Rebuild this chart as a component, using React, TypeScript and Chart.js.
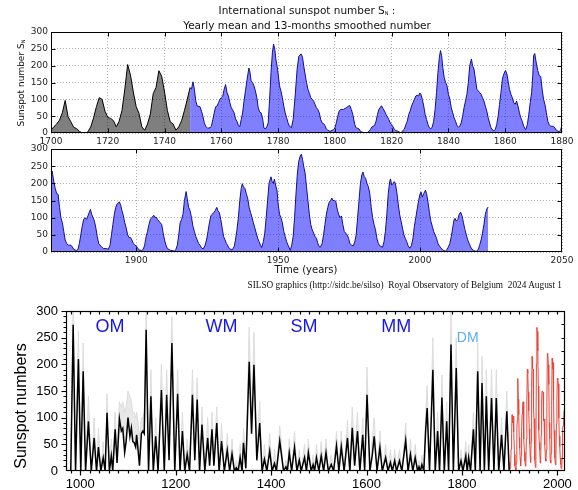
import React, { useEffect, useRef } from 'react';
import { Chart, registerables } from 'chart.js';
Chart.register(...registerables);

const W = 578;
const H = 490;

// ---------- DATA ----------
// Yearly mean sunspot number 1700-1749 (grey part of the top panel)
const yearlyYears = [1700,1701,1702,1703,1704,1705,1706,1707,1708,1709,1710,1711,1712,1713,1714,1715,1716,1717,1718,1719,1720,1721,1722,1723,1724,1725,1726,1727,1728,1729,1730,1731,1732,1733,1734,1735,1736,1737,1738,1739,1740,1741,1742,1743,1744,1745,1746,1747,1748,1749];
const yearlyValues = [8.3,18.3,26.7,38.3,60.0,96.7,48.3,33.3,16.7,13.3,5.0,0,0,3.3,18.3,45.0,78.3,105.0,100.0,65.0,46.7,43.3,36.7,18.3,35.0,66.7,130.0,203.3,171.7,121.7,78.3,58.3,18.3,8.3,26.7,56.7,116.7,135.0,185.0,168.3,121.7,66.7,33.3,26.7,8.3,18.3,36.7,66.7,100.0,134.8];

// 13-month smoothed monthly sunspot number (blue)
const smoothYears = [
1749.0,1749.5,1750.0,1750.5,1751.0,1751.5,1752.5,1753.0,1753.5,1754.0,1754.5,1755.2,1756.0,1756.5,1757.0,1757.5,1758.0,1758.5,1759.0,1759.5,
1760.0,1760.5,1761.0,1761.5,1762.0,1762.5,1763.0,1763.5,1764.0,1764.5,1765.0,1765.5,1766.0,1766.5,1767.0,1767.5,1768.0,1768.5,1769.0,1769.7,
1770.0,1770.5,1771.0,1771.5,1772.0,1772.5,1773.0,1773.5,1774.0,1774.5,1775.0,1775.5,1776.0,1776.5,1777.0,1777.5,1778.0,1778.4,1778.8,1779.2,
1779.8,1780.5,1781.0,1781.5,1782.0,1782.5,1783.0,1783.5,1784.0,1784.7,1785.3,1786.0,1786.7,1787.3,1788.1,1788.6,1789.0,1789.5,1790.0,1790.5,
1791.0,1791.5,1792.0,1792.5,1793.0,1793.5,1794.0,1794.5,1795.0,1795.5,1796.0,1796.5,1797.0,1797.5,1798.3,1799.0,1799.5,1800.0,1800.5,1801.0,
1801.5,1802.0,1803.0,1804.0,1805.2,1805.8,1806.3,1807.0,1807.5,1808.0,1808.5,1809.0,1809.5,1810.6,1811.5,1812.0,1812.5,1813.0,1813.5,1814.0,
1814.5,1815.0,1815.5,1816.4,1817.0,1817.5,1818.0,1818.5,1819.0,1819.5,1820.0,1820.5,1821.0,1821.5,1822.0,1822.5,1823.3,1824.0,1824.5,1825.0,
1825.5,1826.0,1826.5,1827.0,1827.5,1828.0,1828.5,1829.0,1829.5,1829.9,1830.3,1830.8,1831.3,1831.8,1832.3,1832.8,1833.3,1833.8,1834.3,1834.8,
1835.3,1835.8,1836.3,1836.8,1837.2,1837.6,1838.0,1838.5,1839.0,1839.5,1840.0,1840.5,1841.0,1841.5,1842.0,1842.5,1843.0,1843.5,1844.0,1844.5,
1845.0,1845.5,1846.0,1846.5,1847.0,1847.5,1848.1,1848.5,1849.0,1849.5,1850.0,1850.5,1851.0,1851.5,1852.0,1852.5,1853.0,1853.5,1854.0,1854.5,
1855.0,1855.9,1856.5,1857.0,1857.5,1858.0,1858.5,1859.0,1859.5,1860.1,1860.6,1861.0,1861.5,1862.0,1862.5,1863.0,1863.5,1864.0,1864.5,1865.0,
1865.5,1866.0,1866.5,1867.2,1867.8,1868.3,1868.8,1869.3,1869.7,1870.0,1870.4,1871.0,1871.5,1872.0,1872.5,1873.0,1873.5,1874.0,1874.5,1875.0,
1875.5,1876.0,1876.5,1877.0,1877.5,1878.0,1878.9,1879.5,1880.0,1880.5,1881.0,1881.5,1882.0,1882.5,1883.0,1883.9,1884.3,1884.8,1885.3,1885.8,
1886.3,1886.8,1887.3,1887.8,1888.5,1889.5,1890.2,1890.8,1891.3,1891.8,1892.3,1892.8,1893.3,1894.1,1894.6,1895.0,1895.5,1896.0,1896.5,1897.0,
1897.5,1898.0,1898.5,1899.0,1899.5,1900.0,1900.5,1901.0,1902.0,1902.5,1903.0,1903.5,1904.0,1904.5,1905.0,1905.5,1906.2,1906.6,1907.0,1907.5,
1908.0,1908.5,1909.0,1909.5,1910.0,1910.5,1911.0,1911.5,1912.0,1913.6,1914.0,1914.5,1915.0,1915.5,1916.0,1916.5,1917.0,1917.6,1918.0,1918.5,
1919.0,1919.5,1920.0,1920.5,1921.0,1921.5,1922.0,1922.5,1923.0,1923.6,1924.2,1924.8,1925.3,1925.8,1926.3,1926.8,1927.3,1927.8,1928.4,1928.8,
1929.3,1929.8,1930.3,1930.8,1931.3,1931.8,1932.3,1932.8,1933.8,1934.5,1935.0,1935.5,1936.0,1936.5,1937.0,1937.4,1937.8,1938.3,1938.8,1939.3,
1939.8,1940.3,1940.8,1941.3,1941.8,1942.3,1942.8,1943.3,1943.8,1944.2,1944.8,1945.3,1945.8,1946.3,1946.8,1947.5,1947.9,1948.3,1948.7,1949.1,
1949.6,1950.0,1950.5,1951.0,1951.5,1952.0,1952.5,1953.0,1953.5,1954.3,1954.8,1955.3,1955.8,1956.3,1956.8,1957.3,1957.8,1958.2,1958.6,1959.0,
1959.5,1960.0,1960.5,1961.0,1961.5,1962.0,1962.5,1963.0,1963.5,1964.0,1964.5,1964.9,1965.5,1966.0,1966.5,1967.0,1967.5,1968.0,1968.5,1968.9,
1969.3,1969.8,1970.3,1970.8,1971.3,1971.8,1972.3,1972.8,1973.3,1973.8,1974.3,1974.8,1975.3,1975.8,1976.5,1977.0,1977.5,1978.0,1978.5,1979.0,
1979.5,1979.9,1980.3,1980.8,1981.3,1981.8,1982.3,1982.8,1983.3,1983.8,1984.3,1984.8,1985.3,1985.8,1986.8,1987.3,1987.8,1988.3,1988.8,1989.3,
1989.6,1990.0,1990.5,1990.9,1991.3,1991.8,1992.3,1992.8,1993.3,1993.8,1994.3,1994.8,1995.3,1995.8,1996.4,1997.0,1997.5,1998.0,1998.5,1999.0,
1999.5,2000.0,2000.3,2000.8,2001.3,2001.9,2002.3,2002.8,2003.3,2003.8,2004.3,2004.8,2005.3,2005.8,2006.3,2006.8,2007.3,2007.8,2008.4,2008.9,
2009.5,2010.0,2010.5,2011.0,2011.5,2012.0,2012.3,2012.8,2013.3,2013.8,2014.3,2014.8,2015.3,2015.8,2016.3,2016.8,2017.3,2017.8,2018.3,2018.8,
2019.3,2019.9,2020.5,2021.0,2021.5,2022.0,2022.5,2023.0,2023.5,2024.0];
const smoothValues = [
135,130,152,130,95,80,78,65,50,30,20,14,16,20,40,60,78,80,90,100,
105,110,130,144,120,110,90,75,68,60,42,35,22,19,40,60,95,125,155,193,
185,155,150,140,125,105,75,62,60,45,15,12,18,30,100,180,240,264,250,220,
190,140,125,105,80,60,45,30,20,16,40,110,190,228,235,225,200,175,150,130,
118,105,100,95,85,75,70,60,40,30,28,22,12,8,5,8,10,15,30,50,
65,70,70,75,82,70,55,25,15,14,12,5,3,0,2,5,10,18,20,22,
35,55,70,81,72,65,55,48,40,30,25,18,10,7,6,4,0,8,12,25,
35,55,65,80,90,100,110,112,110,119,115,100,80,55,40,25,15,12,18,35,
70,120,180,225,245,230,195,165,150,140,115,100,75,60,45,35,22,18,20,30,
50,75,95,115,150,200,220,200,190,160,130,125,120,115,105,95,80,65,45,30,
15,6,10,25,50,85,120,160,175,186,175,155,130,115,105,90,85,95,80,60,
45,35,20,10,25,55,90,120,170,230,236,205,185,170,168,130,100,85,60,35,
25,20,20,20,15,8,4,8,25,50,75,95,100,95,105,124,110,100,90,70,
45,25,20,15,10,10,8,20,50,80,110,130,140,146,135,120,105,85,70,50,
42,42,35,25,20,18,12,6,4.5,8,20,45,60,80,95,100,107,100,102,95,
90,85,80,55,35,20,10,8,5,2.5,8,20,50,85,95,110,150,176,155,130,
120,100,75,60,45,35,25,20,12,9,18,35,60,85,105,110,115,120,130,120,
115,95,70,45,35,25,18,10,6,15,35,65,100,150,185,199,190,185,170,155,
130,115,100,85,70,55,40,30,20,13,30,55,100,150,200,219,205,200,212,195,
180,140,110,100,85,60,45,30,20,5,20,45,100,170,230,265,280,285,270,250,
230,190,150,110,80,65,55,45,40,25,15,14,25,50,80,110,130,145,150,157,
150,150,148,125,110,100,105,80,60,55,50,40,25,20,18,30,50,100,150,200,
225,233,220,215,200,190,170,130,100,80,65,40,25,18,14,30,60,110,170,205,
213,195,200,205,200,175,140,110,90,70,50,40,30,18,11,20,40,75,100,125,
150,170,175,160,170,180,170,145,115,90,75,60,50,40,25,18,12,8,4,2,
8,15,25,45,70,95,98,90,95,110,116,105,85,65,50,35,25,15,8,5,
3,2,8,20,35,55,80,110,125,131];

// Reconstructed sunspot numbers (black) and upper edge of the uncertainty band (grey)
const reconYears = [
980,985,990,996,1001,1006,1011,1017,1023,1029,1034,1038,1043,1048,1052,1056,1061,1065,1068,1073,
1077,1082,1086,1089,1093,1096,1100,1104,1107,1110,1113,1116,1118,1121,1124,1128,1131,1134,1138,1143,
1148,1153,1158,1163,1170,1176,1181,1186,1192,1198,1204,1209,1214,1219,1224,1229,1235,1240,1245,1250,
1255,1261,1267,1271,1276,1280,1286,1291,1296,1302,1308,1313,1318,1323,1327,1331,1335,1339,1342,1347,
1354,1359,1364,1370,1376,1381,1386,1391,1397,1402,1407,1411,1418,1426,1431,1434,1438,1443,1449,1454,
1459,1463,1470,1474,1478,1484,1488,1491,1495,1500,1505,1510,1515,1520,1526,1531,1537,1542,1547,1553,
1560,1565,1570,1575,1581,1586,1592,1596,1601,1607,1612,1616,1622,1628,1633,1640,1645,1650,1654,1659,
1663,1669,1674,1682,1687,1692,1697,1702,1707,1710,1713,1716,1720,1724,1727,1732,1739,1744,1749,1753,
1758,1763,1768,1772,1777,1782,1788,1793,1798,1802,1808,1811,1814,1818,1824,1828,1833,1838,1842,1847,
1851,1856,1862,1867,1872,1877,1883,1888,1894,1899];
const reconValues = [
0,274,0,210,0,187,0,93,0,62,0,45,0,25,0,109,0,28,0,78,
15,98,75,80,35,55,100,65,81,55,53,45,68,40,10,70,75,70,265,0,
140,0,65,0,152,0,143,20,240,0,145,0,75,0,31,0,143,20,134,0,
87,0,62,10,78,10,90,0,56,0,39,0,32,0,6,0,25,0,53,5,
205,70,199,20,90,0,22,0,37,0,14,0,56,0,8,0,34,0,44,0,
20,0,25,0,34,0,12,0,25,0,28,0,34,0,12,0,47,0,45,0,
62,0,81,10,75,0,68,0,143,0,30,65,0,44,0,25,0,16,0,19,
0,19,0,57,0,31,0,25,0,8,0,12,0,78,118,0,190,0,75,0,
138,0,93,0,237,0,193,0,19,0,28,0,25,0,78,0,187,0,165,0,
140,0,137,0,137,0,68,0,112,0];
const reconUpper = [
0,310,0,262,0,240,0,140,0,100,0,80,0,55,0,145,0,60,10,110,
40,130,120,130,110,120,150,140,130,110,110,100,110,90,60,100,100,110,300,0,
190,0,100,0,200,0,190,40,290,0,190,0,110,0,60,0,190,40,175,0,
120,0,100,20,110,20,120,0,90,0,70,0,60,0,20,0,50,0,80,20,
270,100,260,40,130,0,50,0,70,0,40,0,85,0,20,0,60,0,75,0,
40,0,50,0,60,0,30,0,50,0,55,0,60,0,30,0,75,0,75,0,
95,0,120,30,110,0,100,0,195,0,60,100,0,75,0,50,0,40,0,40,
0,40,0,90,0,60,0,50,0,20,0,30,0,110,160,0,250,0,110,0,
180,0,130,0,300,0,250,0,40,0,55,0,50,0,110,0,240,0,215,0,
190,0,190,0,190,0,100,0,150,0];

// Yearly mean sunspot number 1900-2014 (red)
const redYears = [1900,1901,1902,1903,1904,1905,1906,1907,1908,1909,1910,1911,1912,1913,1914,1915,1916,1917,1918,1919,1920,1921,1922,1923,1924,1925,1926,1927,1928,1929,1930,1931,1932,1933,1934,1935,1936,1937,1938,1939,1940,1941,1942,1943,1944,1945,1946,1947,1948,1949,1950,1951,1952,1953,1954,1955,1956,1957,1958,1959,1960,1961,1962,1963,1964,1965,1966,1967,1968,1969,1970,1971,1972,1973,1974,1975,1976,1977,1978,1979,1980,1981,1982,1983,1984,1985,1986,1987,1988,1989,1990,1991,1992,1993,1994,1995,1996,1997,1998,1999,2000,2001,2002,2003,2004,2005,2006,2007,2008,2009,2010,2011,2012,2013,2014];
const redValues = [15.7,4.6,8.5,40.8,70.1,105.5,90.1,102.8,80.9,73.2,30.9,9.5,6.0,2.4,16.1,79.0,95.0,173.6,134.6,105.7,62.7,43.5,23.7,9.7,27.9,74.0,106.5,114.7,129.7,108.2,59.4,35.1,18.6,9.2,14.6,60.2,132.8,190.6,182.6,148.0,113.0,79.2,50.8,27.1,16.1,55.3,154.3,214.7,193.0,190.7,118.9,98.3,45.0,20.1,6.6,54.2,200.7,269.3,261.7,225.1,159.0,76.4,53.4,39.9,15.0,22.0,66.8,132.9,150.0,149.4,148.0,94.4,97.6,54.1,49.2,22.5,18.4,39.3,131.0,220.1,218.9,198.9,162.4,91.0,60.5,20.6,14.8,33.9,123.0,211.1,191.8,203.3,133.0,76.1,44.9,25.1,11.6,28.9,88.3,136.3,173.9,170.4,163.6,99.3,65.3,45.8,24.7,12.6,4.2,4.8,24.9,80.8,84.5,94.0,113.3];

// Axis ticks
const topTicksX = [1700,1720,1740,1760,1780,1800,1820,1840,1860,1880];
const midTicksX = [1900,1950,2000,2050];
const panelTicksY = [0,50,100,150,200,250,300];
const reconTicksX = [1000,1200,1400,1600,1800,2000];

// Era annotations
const eraLabels = ['OM','WM','SM','MM','DM'];
const eraYears = [1062,1296,1469,1662,1812];
const eraValues = [270,270,270,270,250];

// ---------- helpers ----------
const range = (a: number, b: number, s: number) => { const r: number[] = []; for (let v = a; v <= b + 1e-9; v += s) r.push(v); return r; };
const pts = (xs: number[], ys: number[]) => xs.map((x, i) => ({ x, y: ys[i] }));

const framePlugin = {
  id: 'frame',
  afterDatasetsDraw(chart: any, _a: any, opts: any) {
    const { ctx, chartArea: a } = chart;
    const xs = chart.scales.x, ys = chart.scales.y;
    const L = Math.round(a.left) + 0.5, R = Math.round(a.right) - 0.5;
    const T = Math.round(a.top) + 0.5, B = Math.round(a.bottom) - 0.5;
    ctx.save();
    ctx.strokeStyle = opts.color || '#000';
    ctx.lineWidth = opts.width || 1;
    ctx.strokeRect(L, T, R - L, B - T);
    ctx.beginPath();
    for (const m of opts.marks || []) {
      const out = m.dir === 'out' ? 1 : -1;
      for (const v of m.values) {
        if (m.side === 'bottom' || m.side === 'top') {
          const px = Math.round(xs.getPixelForValue(v)) + 0.5;
          if (px < L - 0.6 || px > R + 0.6) continue;
          const y0 = m.side === 'bottom' ? B : T;
          const d = (m.side === 'bottom' ? 1 : -1) * out * m.len;
          ctx.moveTo(px, y0); ctx.lineTo(px, y0 + d);
        } else {
          const py = Math.round(ys.getPixelForValue(v)) + 0.5;
          if (py < T - 0.6 || py > B + 0.6) continue;
          const x0 = m.side === 'left' ? L : R;
          const d = (m.side === 'left' ? -1 : 1) * out * m.len;
          ctx.moveTo(x0, py); ctx.lineTo(x0 + d, py);
        }
      }
    }
    ctx.stroke();
    ctx.restore();
  },
};

const eraPlugin = {
  id: 'eras',
  afterDatasetsDraw(chart: any) {
    const { ctx } = chart;
    const xs = chart.scales.x, ys = chart.scales.y;
    ctx.save();
    ctx.textAlign = 'center';
    ctx.textBaseline = 'middle';
    eraLabels.forEach((t, i) => {
      const small = t === 'DM';
      ctx.font = small ? '14px "Liberation Sans"' : '18px "Liberation Sans"';
      ctx.fillStyle = small ? '#5aaef0' : '#1616e8';
      ctx.fillText(t, xs.getPixelForValue(eraYears[i]), ys.getPixelForValue(eraValues[i]));
    });
    ctx.restore();
  },
};

type Area = { left: number; top: number; right: number; bottom: number };

function axisBase(font: any, color: string) {
  return { font, color, maxRotation: 0, autoSkip: false, callback: (v: any) => String(v) };
}

function panelOptions(xmin: number, xmax: number, xTicks: number[], area: Area) {
  const yw = 40, xh = 20;
  const font = { family: 'DejaVu Sans', size: 9 };
  const grid = { color: '#b0b0b0', lineWidth: 1, drawTicks: false };
  const border = { display: false, dash: [1, 2] };
  return {
    responsive: false, animation: false, devicePixelRatio: 1, events: [],
    layout: { padding: { left: area.left - yw, top: area.top, right: W - area.right, bottom: H - area.bottom - xh } },
    plugins: {
      legend: { display: false }, tooltip: { enabled: false },
      frame: {
        marks: [
          { side: 'bottom', values: xTicks, len: 4, dir: 'in' },
          { side: 'top', values: xTicks, len: 4, dir: 'in' },
          { side: 'left', values: panelTicksY, len: 4, dir: 'in' },
          { side: 'right', values: panelTicksY, len: 4, dir: 'in' },
        ],
      },
    },
    scales: {
      x: {
        type: 'linear', min: xmin, max: xmax,
        afterBuildTicks: (s: any) => { s.ticks = xTicks.map((v) => ({ value: v })); },
        afterFit: (s: any) => { s.height = xh; },
        ticks: { ...axisBase(font, '#222'), padding: 3 },
        grid, border,
      },
      y: {
        type: 'linear', min: 0, max: 300,
        afterBuildTicks: (s: any) => { s.ticks = panelTicksY.map((v) => ({ value: v })); },
        afterFit: (s: any) => { s.width = yw; },
        ticks: { ...axisBase(font, '#222'), padding: 3 },
        grid, border,
      },
    },
  };
}

function useChart(ref: React.RefObject<HTMLCanvasElement>, make: () => any) {
  useEffect(() => {
    if (!ref.current) return;
    const ch = new Chart(ref.current, make());
    return () => ch.destroy();
  }, []);
}

const blueLine = '#10108f';
const blueFill = 'rgba(0,0,255,0.5)';

export default function App() {
  const r1 = useRef<HTMLCanvasElement>(null);
  const r2 = useRef<HTMLCanvasElement>(null);
  const r3 = useRef<HTMLCanvasElement>(null);

  useChart(r1, () => ({
    type: 'line',
    data: {
      datasets: [
        { data: pts(yearlyYears, yearlyValues), borderColor: '#000', borderWidth: 1, backgroundColor: 'rgba(0,0,0,0.5)', fill: 'origin', pointRadius: 0, tension: 0 },
        { data: pts(smoothYears, smoothValues), borderColor: blueLine, borderWidth: 1, backgroundColor: blueFill, fill: 'origin', pointRadius: 0, tension: 0 },
      ],
    },
    options: panelOptions(1700, 1880, topTicksX, { left: 51, top: 32, right: 562, bottom: 133 }),
    plugins: [framePlugin],
  }));

  useChart(r2, () => ({
    type: 'line',
    data: {
      datasets: [
        { data: pts(smoothYears, smoothValues), borderColor: blueLine, borderWidth: 1, backgroundColor: blueFill, fill: 'origin', pointRadius: 0, tension: 0 },
      ],
    },
    options: panelOptions(1870, 2050, midTicksX, { left: 51, top: 149, right: 562, bottom: 252 }),
    plugins: [framePlugin],
  }));

  useChart(r3, () => {
    const area = { left: 66, top: 311, right: 567, bottom: 471 };
    const yw = 50, xh = 24;
    const font = { family: 'Liberation Sans', size: 13 };
    return {
      type: 'line',
      data: {
        datasets: [
          { data: pts(reconYears, reconUpper), borderColor: '#dcdcdc', borderWidth: 1, backgroundColor: '#e8e8e8', fill: '+1', pointRadius: 0, tension: 0, order: 5 },
          { data: pts(reconYears, reconValues), borderColor: '#000', borderWidth: 1.5, fill: false, pointRadius: 0, tension: 0, order: 1 },
          { data: pts(redYears, redValues), borderColor: '#e8463a', borderWidth: 1, fill: false, pointRadius: 0, tension: 0, order: 2 },
        ],
      },
      options: {
        responsive: false, animation: false, devicePixelRatio: 1, events: [],
        layout: { padding: { left: area.left - yw, top: area.top, right: W - area.right, bottom: H - area.bottom - xh } },
        plugins: {
          legend: { display: false }, tooltip: { enabled: false },
          frame: {
            width: 1.2,
            marks: [
              { side: 'bottom', values: range(980, 2000, 20), len: 3, dir: 'out' },
              { side: 'bottom', values: reconTicksX, len: 5, dir: 'out' },
              { side: 'top', values: range(980, 2000, 20), len: 3, dir: 'in' },
              { side: 'left', values: range(0, 300, 10), len: 3, dir: 'out' },
              { side: 'left', values: panelTicksY, len: 5, dir: 'out' },
              { side: 'right', values: range(0, 300, 25), len: 3, dir: 'in' },
            ],
          },
        },
        scales: {
          x: {
            type: 'linear', min: 970, max: 2015,
            afterBuildTicks: (s: any) => { s.ticks = reconTicksX.map((v) => ({ value: v })); },
            afterFit: (s: any) => { s.height = xh; },
            ticks: { ...axisBase(font, '#000'), padding: 6 },
            grid: { display: false, drawTicks: false }, border: { display: false },
          },
          y: {
            type: 'linear', min: 0, max: 300,
            afterBuildTicks: (s: any) => { s.ticks = panelTicksY.map((v) => ({ value: v })); },
            afterFit: (s: any) => { s.width = yw; },
            ticks: { ...axisBase(font, '#000'), padding: 8 },
            grid: { display: false, drawTicks: false }, border: { display: false },
          },
        },
      },
      plugins: [framePlugin, eraPlugin],
    };
  });

  const abs: React.CSSProperties = { position: 'absolute', whiteSpace: 'nowrap' };
  const canvasStyle: React.CSSProperties = { position: 'absolute', left: 0, top: 0, width: W, height: H };
  const dv = '"DejaVu Sans", sans-serif';

  return (
    <div style={{ position: 'absolute', left: 0, top: 0, width: W, height: H, background: '#fff', overflow: 'hidden' }}>
      <canvas ref={r1} width={W} height={H} style={canvasStyle} />
      <canvas ref={r2} width={W} height={H} style={canvasStyle} />
      <canvas ref={r3} width={W} height={H} style={canvasStyle} />

      <div style={{ ...abs, left: 307, top: 11, transform: 'translate(-50%,-50%)', font: `10.5px ${dv}`, color: '#111', lineHeight: '12px' }}>
        International sunspot number S<span style={{ fontSize: '5px', verticalAlign: '-1px' }}>N</span> :
      </div>
      <div style={{ ...abs, left: 307, top: 25, transform: 'translate(-50%,-50%)', font: `10.5px ${dv}`, color: '#111', lineHeight: '12px' }}>
        Yearly mean and 13-months smoothed number
      </div>
      <div style={{ ...abs, left: 22, top: 83, transform: 'translate(-50%,-50%) rotate(-90deg)', font: `9px ${dv}`, color: '#111', lineHeight: '10px' }}>
        Sunspot number S<span style={{ fontSize: '5px', verticalAlign: '-1px' }}>N</span>
      </div>
      <div style={{ ...abs, left: 306, top: 270, transform: 'translate(-50%,-50%)', font: `10px ${dv}`, color: '#111', lineHeight: '12px' }}>
        Time (years)
      </div>
      <div style={{ ...abs, right: W - 562, top: 285, transform: 'translateY(-50%)', font: '9.3px "Liberation Serif", serif', color: '#111', lineHeight: '10px' }}>
        SILSO graphics (http://sidc.be/silso)&nbsp; Royal Observatory of Belgium&nbsp; 2024 August 1
      </div>
      <div style={{ ...abs, left: 21, top: 406, transform: 'translate(-50%,-50%) rotate(-90deg)', font: '16px "Liberation Sans", Arial, sans-serif', color: '#000', lineHeight: '18px' }}>
        Sunspot numbers
      </div>
    </div>
  );
}
